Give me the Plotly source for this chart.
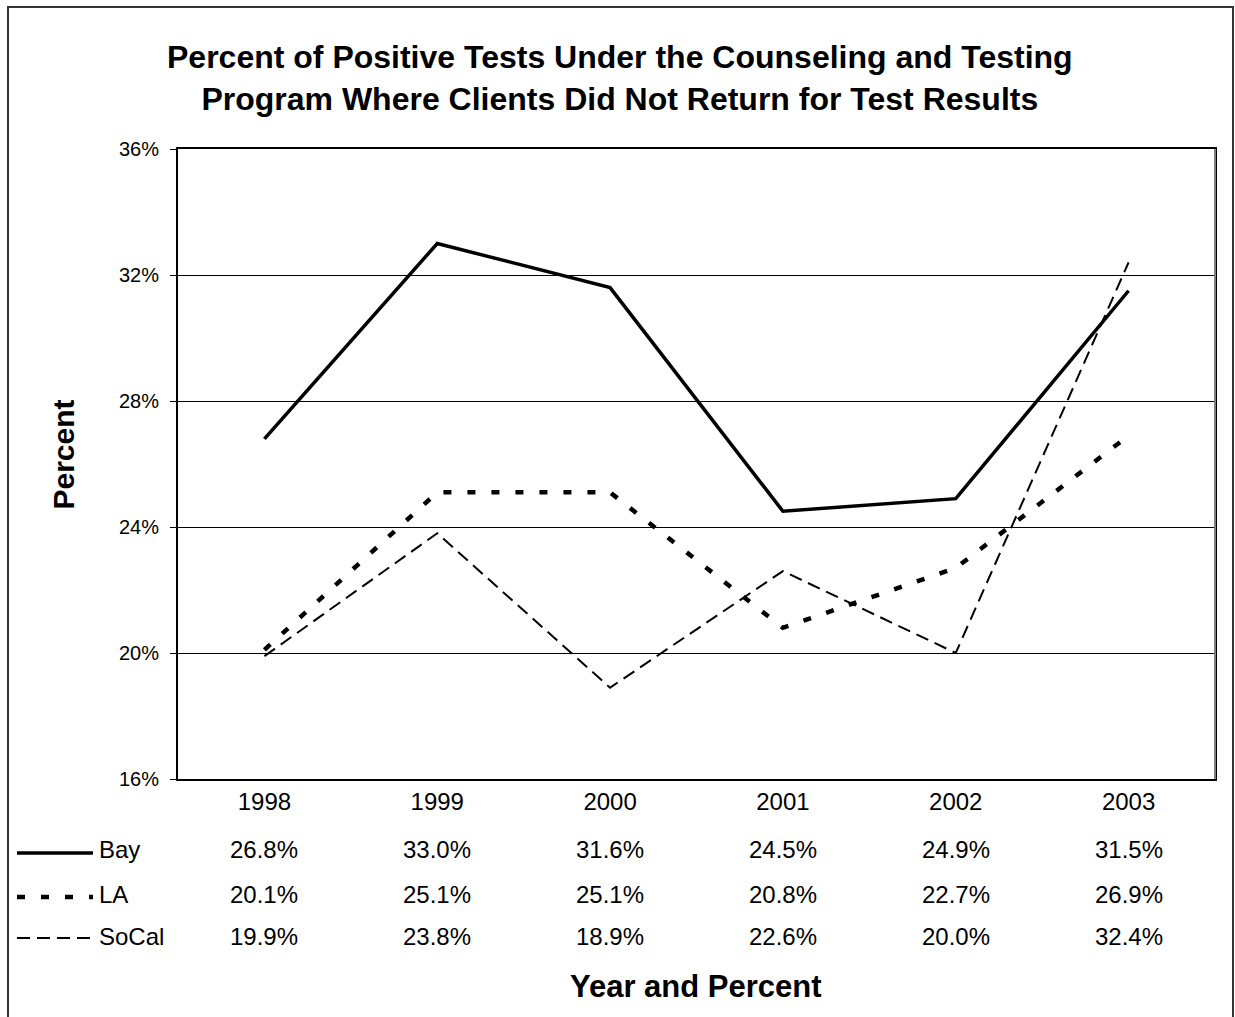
import plotly.graph_objects as go

# Data
years = ["1998", "1999", "2000", "2001", "2002", "2003"]
bay = [26.8, 33.0, 31.6, 24.5, 24.9, 31.5]
la = [20.1, 25.1, 25.1, 20.8, 22.7, 26.9]
socal = [19.9, 23.8, 18.9, 22.6, 20.0, 32.4]
series_names = ["Bay", "LA", "SoCal"]
y_ticks = [16, 20, 24, 28, 32, 36]

title_text = ("Percent of Positive Tests Under the Counseling and Testing<br>"
              "Program Where Clients Did Not Return for Test Results")

W, H = 1235, 1017
L, R, T, B = 178, 20, 149, 238
PW, PH = W - L - R, H - T - B
FONT = "Liberation Sans, Arial, sans-serif"


def px_x(px):
    return (px - L) / PW


def px_y(py):
    return (H - B - py) / PH


styles = {
    "Bay": dict(color="black", width=3.5, dash="solid"),
    "LA": dict(color="black", width=4.5, dash="8px,16px"),
    "SoCal": dict(color="black", width=2, dash="13px,7px"),
}
values = {"Bay": bay, "LA": la, "SoCal": socal}

fig = go.Figure()
for name in series_names:
    fig.add_trace(go.Scatter(x=years, y=values[name], mode="lines", name=name,
                             line=styles[name], showlegend=False))

annotations = []
shapes = []

# data table under the axis (one column per year category)
row_py = {"Bay": 849, "LA": 894, "SoCal": 936}
line_py = {"Bay": 853, "LA": 897, "SoCal": 938}
for name in series_names:
    for i, v in enumerate(values[name]):
        annotations.append(dict(x=i, xref="x", y=px_y(row_py[name]), yref="paper",
                                text=f"{v:.1f}%", showarrow=False, xanchor="center",
                                yanchor="middle", font=dict(size=24, color="black", family=FONT)))
    annotations.append(dict(x=px_x(97), xref="paper", y=px_y(row_py[name]), yref="paper",
                            text=name, showarrow=False, xanchor="left", yanchor="middle",
                            font=dict(size=24, color="black", family=FONT)))
    st = styles[name]
    shapes.append(dict(type="line", xref="paper", yref="paper",
                       x0=px_x(17), x1=px_x(93), y0=px_y(line_py[name]), y1=px_y(line_py[name]),
                       line=dict(color="black", width=st["width"], dash=st["dash"])))

# titles
annotations.append(dict(x=px_x(620), xref="paper", y=px_y(78), yref="paper",
                        text=f"<b>{title_text}</b>", showarrow=False, xanchor="center",
                        yanchor="middle", font=dict(size=32, color="black", family=FONT)))
annotations.append(dict(x=px_x(62.5), xref="paper", y=px_y(455), yref="paper",
                        text="<b>Percent</b>", showarrow=False, textangle=-90,
                        xanchor="center", yanchor="middle",
                        font=dict(size=30, color="black", family=FONT)))
annotations.append(dict(x=px_x(696), xref="paper", y=px_y(986), yref="paper",
                        text="<b>Year and Percent</b>", showarrow=False,
                        xanchor="center", yanchor="middle",
                        font=dict(size=31, color="black", family=FONT)))

# outer frame
shapes.append(dict(type="rect", xref="paper", yref="paper",
                   x0=px_x(8), x1=px_x(1233), y0=px_y(1040), y1=px_y(7),
                   line=dict(color="#333333", width=2), fillcolor="rgba(0,0,0,0)",
                   layer="below"))

# lighter right edge of the plot box
shapes.append(dict(type="line", xref="paper", yref="paper", x0=1, x1=1, y0=0, y1=1,
                   line=dict(color="#808080", width=2)))

fig.update_layout(
    width=W, height=H,
    margin=dict(l=L, r=R, t=T, b=B, pad=0),
    paper_bgcolor="white", plot_bgcolor="white",
    font=dict(family=FONT, color="black"),
    annotations=annotations, shapes=shapes,
    xaxis=dict(type="category", range=[-0.5, 5.5], showgrid=False, zeroline=False,
               showline=True, linecolor="black", linewidth=2, mirror=True,
               ticks="", ticklabelstandoff=0,
               tickfont=dict(size=24, family=FONT, color="black")),
    yaxis=dict(range=[16, 36], tickvals=y_ticks, ticktext=[f"{t}%" for t in y_ticks],
               showgrid=True, gridcolor="black", gridwidth=1, zeroline=False,
               showline=True, linecolor="black", linewidth=2, mirror=True,
               ticks="outside", ticklen=6, tickcolor="black", tickwidth=1,
               ticklabelstandoff=7,
               tickfont=dict(size=20, family=FONT, color="black")),
)

fig.write_html("out.html")
